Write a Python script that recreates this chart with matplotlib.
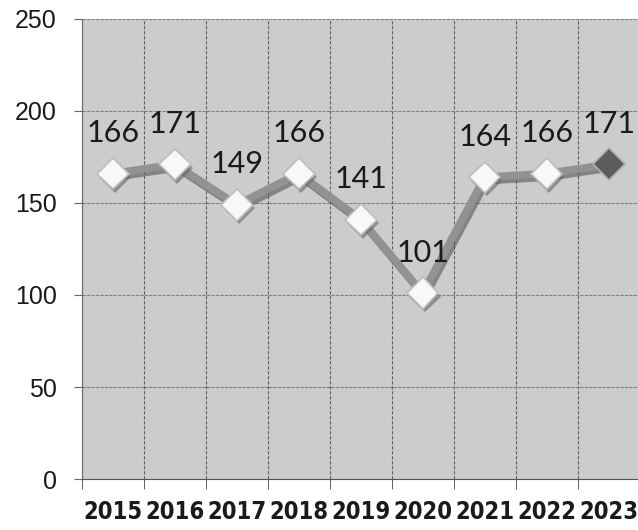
import matplotlib
matplotlib.use("Agg")
import matplotlib.pyplot as plt
import matplotlib.patheffects as pe
from matplotlib.ticker import FixedLocator

years = ["2015", "2016", "2017", "2018", "2019", "2020", "2021", "2022", "2023"]
values = [166, 171, 149, 166, 141, 101, 164, 166, 171]
yticks = [0, 50, 100, 150, 200, 250]

fig = plt.figure(figsize=(6.38, 5.30), dpi=100)
ax = fig.add_axes([0.1285, 0.0962, 0.874, 0.868])
ax.set_facecolor("#cccccc")

x = list(range(len(years)))
ax.set_xlim(-0.5, len(years) - 0.5)
ax.set_ylim(0, 250)

# grid
ax.set_yticks(yticks)
ax.set_xticks(x)
ax.xaxis.set_minor_locator(FixedLocator([i - 0.5 for i in range(len(years) + 1)]))
ax.grid(axis="y", which="major", color="#808080", lw=0.8, ls=(0, (3, 1)))
ax.grid(axis="x", which="minor", color="#606060", lw=0.8, ls=(0, (3, 1.5)))
ax.set_axisbelow(True)

ax.plot(x, values, color="#929292", lw=5.5, zorder=3,
        solid_capstyle="round",
        path_effects=[pe.SimpleLineShadow(offset=(1.5, -2.5), shadow_color="#555555", alpha=0.6),
                      pe.Normal()])
ax.plot(x[:-1], values[:-1], ls="none", marker="D", ms=16, mfc="#f8f8f8",
        mec="#bdbdbd", mew=1.2, zorder=4,
        path_effects=[pe.SimplePatchShadow(offset=(1.5, -2.5), shadow_rgbFace="#666666", alpha=0.6), pe.Normal()])
ax.plot(x[-1:], values[-1:], ls="none", marker="D", ms=16, mfc="#5c5c5c",
        mec="#b0b0b0", mew=1.2, zorder=4)

for xi, v in zip(x, values):
    ax.annotate(str(v), (xi, v), xytext=(0, 19), textcoords="offset points",
                ha="center", va="bottom", fontsize=22, family=["Lato", "DejaVu Sans"],
                color="#1a1a1a", zorder=5)

ax.set_yticklabels([str(t) for t in yticks], fontsize=18,
                   family=["Liberation Sans", "DejaVu Sans"], color="#1a1a1a")
ax.set_xticklabels(years, fontsize=17, fontweight="bold", fontstretch="condensed",
                   family=["DejaVu Sans"], color="#1a1a1a")
ax.tick_params(axis="y", which="major", length=6, color="#666666", pad=12)
ax.tick_params(axis="x", which="major", length=0, pad=15)
ax.tick_params(axis="x", which="minor", length=7, color="#444444")

for s in ["top", "right"]:
    ax.spines[s].set_visible(False)
ax.spines["left"].set_color("#666666")
ax.spines["left"].set_linestyle((0, (3, 1)))
ax.spines["bottom"].set_color("#555555")

fig.savefig("out.png", dpi=100)
